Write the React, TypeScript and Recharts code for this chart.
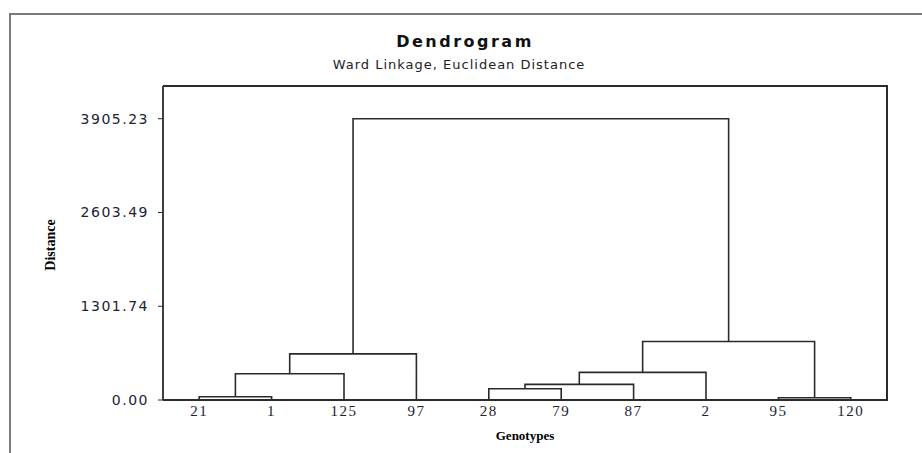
import {
  ScatterChart,
  Scatter,
  XAxis,
  YAxis,
} from 'recharts';

// leaf order as shown on the x axis
const leaves = ['21', '1', '125', '97', '28', '79', '87', '2', '95', '120'];

// merges: [left node, right node, height]; nodes 0-9 are leaves, 10+ are merges in order
const mergeLeft = [0, 10, 11, 4, 13, 14, 8, 15, 12];
const mergeRight = [1, 2, 3, 5, 6, 7, 9, 16, 17];
const mergeHeight = [46, 364, 641, 157, 217, 384, 32, 813, 3905.23];

const yTicks = [0, 1301.74, 2603.49, 3905.23];

const LINE = '#2b2b2b';

function buildLinks() {
  const nodeX: number[] = leaves.map((_, i) => i);
  const nodeH: number[] = leaves.map(() => 0);
  return mergeHeight.map((h, i) => {
    const l = mergeLeft[i];
    const r = mergeRight[i];
    nodeX.push((nodeX[l] + nodeX[r]) / 2);
    nodeH.push(h);
    return [
      { x: nodeX[l], y: nodeH[l] },
      { x: nodeX[l], y: h },
      { x: nodeX[r], y: h },
      { x: nodeX[r], y: nodeH[r] },
    ];
  });
}

const links = buildLinks();

const noDot = () => <g />;

export default function App() {
  return (
    <div style={{ position: 'relative', width: 922, height: 453, background: '#fff', overflow: 'hidden' }}>
      <style>{'body{margin:0}'}</style>
      {/* outer frame */}
      <div
        style={{
          position: 'absolute',
          left: 9,
          top: 13,
          width: 930,
          height: 460,
          borderTop: '2px solid #7a7a7a',
          borderLeft: '2px solid #7a7a7a',
        }}
      />
      {/* plot frame (top/right edges; left and bottom come from the axes) */}
      <div
        style={{
          position: 'absolute',
          left: 163,
          top: 85,
          width: 723,
          height: 314,
          borderTop: `2px solid ${LINE}`,
          borderRight: `2px solid ${LINE}`,
        }}
      />
      <div
        style={{
          position: 'absolute',
          left: 0,
          width: 930,
          top: 32,
          textAlign: 'center',
          fontFamily: '"DejaVu Sans", sans-serif',
          fontWeight: 'bold',
          fontSize: 16,
          letterSpacing: 2.5,
          color: '#111',
        }}
      >
        Dendrogram
      </div>
      <div
        style={{
          position: 'absolute',
          left: 0,
          width: 918,
          top: 57,
          textAlign: 'center',
          fontFamily: '"DejaVu Sans", sans-serif',
          fontSize: 13,
          letterSpacing: 1,
          color: '#222',
        }}
      >
        Ward Linkage, Euclidean Distance
      </div>
      <div
        style={{
          position: 'absolute',
          left: 51,
          top: 245,
          transform: 'translate(-50%, -50%) rotate(-90deg)',
          fontFamily: '"Liberation Serif", serif',
          fontWeight: 'bold',
          fontSize: 14,
          color: '#000',
          whiteSpace: 'nowrap',
        }}
      >
        Distance
      </div>
      <div
        style={{
          position: 'absolute',
          left: 525,
          top: 436,
          transform: 'translate(-50%, -50%)',
          fontFamily: '"Liberation Serif", serif',
          fontWeight: 'bold',
          fontSize: 13,
          color: '#000',
          whiteSpace: 'nowrap',
        }}
      >
        Genotypes
      </div>
      <div style={{ position: 'absolute', left: 0, top: 0 }}>
        <ScatterChart
          width={922}
          height={453}
          margin={{ top: 86, right: 35, bottom: 23, left: 83 }}
        >
          <XAxis
            type="number"
            dataKey="x"
            domain={[-0.5, 9.5]}
            ticks={leaves.map((_, i) => i)}
            tickFormatter={(v) => leaves[v] ?? ''}
            interval={0}
            height={30}
            tickLine={false}
            tickSize={3}
            axisLine={{ stroke: LINE, strokeWidth: 1.8 }}
            tick={{ fontFamily: '"Liberation Serif", serif', fontSize: 15, fill: '#223', letterSpacing: 1.5 }}
            allowDataOverflow
          />
          <YAxis
            type="number"
            dataKey="y"
            domain={[0, 4360]}
            ticks={yTicks}
            tickFormatter={(v) => Number(v).toFixed(2)}
            interval={0}
            width={80}
            tickSize={5}
            tickMargin={9}
            tickLine={{ stroke: LINE }}
            axisLine={{ stroke: LINE, strokeWidth: 1.8 }}
            tick={{ fontFamily: '"DejaVu Sans", sans-serif', fontSize: 14, fill: '#223', letterSpacing: 1.5 }}
          />
          {links.map((pts, i) => (
            <Scatter
              key={i}
              data={pts}
              line={{ stroke: LINE, strokeWidth: 1.6 }}
              lineJointType="linear"
              shape={noDot}
              fill={LINE}
              isAnimationActive={false}
            />
          ))}
        </ScatterChart>
      </div>
    </div>
  );
}
